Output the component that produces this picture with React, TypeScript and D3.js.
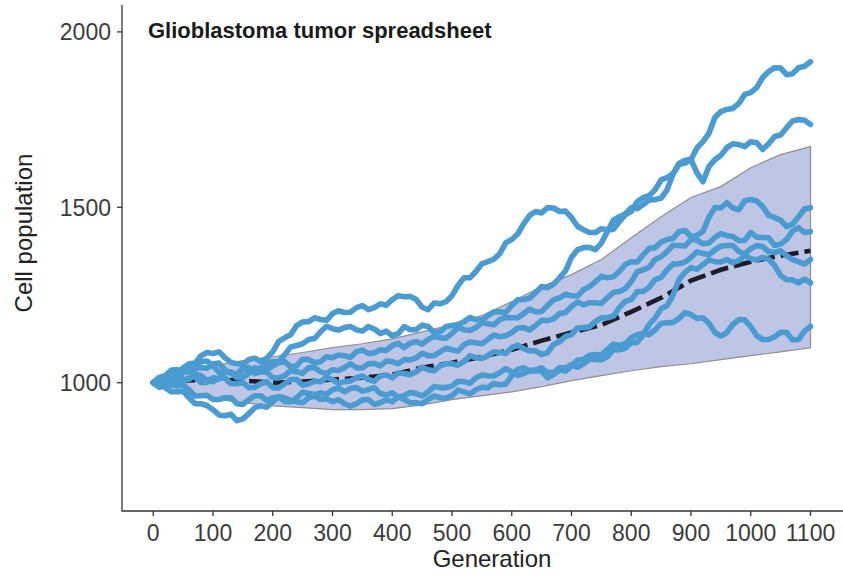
import React from "react";
import * as d3 from "d3";

// Sampling grid (generation) for the simulated runs
const generations = [
  0, 10, 20, 30, 40, 50, 60, 70, 80, 90, 100, 110, 120, 130, 140, 150, 160, 170, 180, 190,
  200, 210, 220, 230, 240, 250, 260, 270, 280, 290, 300, 310, 320, 330, 340, 350, 360, 370, 380, 390,
  400, 410, 420, 430, 440, 450, 460, 470, 480, 490, 500, 510, 520, 530, 540, 550, 560, 570, 580, 590,
  600, 610, 620, 630, 640, 650, 660, 670, 680, 690, 700, 710, 720, 730, 740, 750, 760, 770, 780, 790,
  800, 810, 820, 830, 840, 850, 860, 870, 880, 890, 900, 910, 920, 930, 940, 950, 960, 970, 980, 990,
  1000, 1010, 1020, 1030, 1040, 1050, 1060, 1070, 1080, 1090, 1100,
];

// Individual simulation runs (cell population per generation)
const runA = [
  1000, 1014, 1009, 1008, 1020, 1042, 1054, 1056, 1077, 1086, 1083, 1088, 1071, 1058, 1054, 1052, 1066, 1070, 1060, 1070,
  1088, 1118, 1128, 1137, 1163, 1173, 1174, 1185, 1180, 1178, 1197, 1205, 1200, 1201, 1214, 1220, 1208, 1214, 1225, 1221,
  1237, 1248, 1245, 1246, 1237, 1215, 1208, 1227, 1225, 1231, 1248, 1277, 1299, 1299, 1317, 1339, 1345, 1352, 1368, 1399,
  1408, 1424, 1453, 1477, 1488, 1484, 1499, 1498, 1488, 1489, 1471, 1446, 1436, 1428, 1428, 1439, 1436, 1437, 1459, 1479,
  1488, 1516, 1528, 1533, 1550, 1578, 1585, 1596, 1625, 1634, 1636, 1598, 1573, 1616, 1636, 1648, 1670, 1681, 1679, 1673,
  1687, 1684, 1665, 1681, 1702, 1706, 1727, 1746, 1750, 1748, 1736,
];
const runB = [
  1000, 987, 991, 1004, 1003, 1004, 1014, 1017, 1000, 1001, 1014, 1012, 1031, 1031, 1020, 1037, 1037, 1033, 1043, 1056,
  1060, 1060, 1080, 1102, 1106, 1111, 1123, 1126, 1145, 1161, 1154, 1150, 1157, 1160, 1151, 1147, 1160, 1153, 1140, 1147,
  1134, 1140, 1160, 1151, 1151, 1164, 1160, 1143, 1145, 1160, 1163, 1166, 1174, 1186, 1180, 1178, 1191, 1202, 1202, 1200,
  1220, 1236, 1237, 1241, 1257, 1274, 1271, 1281, 1299, 1319, 1357, 1379, 1385, 1386, 1379, 1398, 1431, 1463, 1473, 1481,
  1499, 1496, 1508, 1521, 1522, 1526, 1550, 1595, 1622, 1626, 1636, 1669, 1687, 1711, 1756, 1773, 1779, 1782, 1796, 1822,
  1827, 1841, 1870, 1887, 1898, 1897, 1878, 1881, 1898, 1902, 1915,
];
const runC = [
  1000, 1015, 1020, 1036, 1037, 1034, 1048, 1051, 1060, 1062, 1048, 1030, 1031, 1029, 1014, 1015, 1026, 1043, 1037, 1036,
  1048, 1057, 1060, 1045, 1048, 1067, 1066, 1057, 1060, 1074, 1071, 1079, 1077, 1072, 1088, 1093, 1083, 1085, 1094, 1092,
  1106, 1112, 1100, 1113, 1117, 1110, 1123, 1132, 1128, 1127, 1140, 1157, 1151, 1149, 1157, 1171, 1168, 1165, 1180, 1186,
  1185, 1185, 1197, 1210, 1202, 1203, 1220, 1236, 1242, 1252, 1248, 1247, 1265, 1274, 1288, 1303, 1299, 1302, 1317, 1337,
  1345, 1344, 1365, 1383, 1385, 1401, 1408, 1411, 1431, 1434, 1416, 1420, 1431, 1472, 1499, 1498, 1513, 1498, 1493, 1519,
  1522, 1518, 1502, 1477, 1471, 1463, 1445, 1452, 1473, 1495, 1499,
];
const runD = [
  1000, 991, 991, 993, 1009, 1029, 1031, 1040, 1043, 1041, 1054, 1056, 1037, 1026, 1026, 1040, 1043, 1026, 1031, 1030,
  1014, 1014, 1020, 1035, 1031, 1027, 1043, 1043, 1031, 1026, 1037, 1035, 1043, 1054, 1043, 1042, 1054, 1055, 1048, 1062,
  1060, 1054, 1066, 1065, 1071, 1084, 1077, 1077, 1088, 1098, 1094, 1090, 1108, 1116, 1114, 1111, 1123, 1136, 1131, 1134,
  1143, 1156, 1157, 1150, 1163, 1178, 1177, 1182, 1197, 1200, 1217, 1230, 1222, 1228, 1228, 1226, 1242, 1257, 1260, 1268,
  1288, 1316, 1322, 1329, 1351, 1359, 1374, 1392, 1391, 1390, 1408, 1406, 1396, 1398, 1414, 1425, 1419, 1417, 1405, 1406,
  1428, 1415, 1414, 1413, 1391, 1395, 1408, 1432, 1442, 1428, 1431,
];
const runE = [
  1000, 1014, 1014, 1025, 1026, 1010, 1009, 1025, 1020, 1006, 1003, 1012, 1014, 997, 997, 1000, 986, 987, 997, 1003,
  986, 985, 997, 1009, 1009, 993, 997, 1004, 1003, 1015, 1009, 998, 1003, 1005, 1014, 1019, 1009, 1004, 1020, 1022,
  1014, 1028, 1026, 1023, 1031, 1044, 1037, 1034, 1048, 1054, 1054, 1050, 1060, 1077, 1071, 1069, 1077, 1088, 1086, 1083,
  1100, 1107, 1097, 1091, 1091, 1080, 1086, 1109, 1117, 1132, 1137, 1156, 1157, 1159, 1174, 1185, 1185, 1190, 1214, 1232,
  1237, 1260, 1260, 1272, 1294, 1300, 1322, 1338, 1339, 1344, 1357, 1373, 1368, 1365, 1379, 1389, 1391, 1391, 1374, 1367,
  1382, 1391, 1388, 1374, 1371, 1376, 1362, 1351, 1345, 1338, 1351,
];
const runF = [
  1000, 998, 1009, 995, 991, 994, 980, 962, 963, 964, 952, 952, 957, 958, 940, 938, 952, 963, 963, 949,
  957, 959, 946, 946, 957, 973, 969, 966, 971, 967, 980, 985, 974, 984, 986, 976, 980, 986, 969, 965,
  971, 959, 963, 972, 969, 962, 974, 989, 986, 986, 991, 1004, 1003, 998, 1014, 1022, 1020, 1019, 1029, 1040,
  1031, 1021, 1026, 1035, 1037, 1042, 1029, 1029, 1043, 1042, 1051, 1044, 1054, 1067, 1066, 1065, 1074, 1094, 1094, 1098,
  1114, 1115, 1137, 1166, 1185, 1211, 1220, 1250, 1294, 1315, 1328, 1323, 1337, 1350, 1345, 1344, 1351, 1342, 1348, 1362,
  1354, 1350, 1357, 1352, 1334, 1305, 1294, 1293, 1285, 1295, 1285,
];
const runG = [
  1000, 1001, 986, 974, 974, 976, 957, 940, 940, 935, 923, 908, 906, 910, 892, 897, 912, 929, 934, 930,
  946, 960, 957, 949, 946, 943, 957, 962, 952, 954, 946, 952, 940, 933, 940, 951, 952, 938, 943, 951,
  946, 960, 952, 943, 943, 940, 952, 962, 957, 956, 963, 979, 974, 968, 980, 987, 986, 998, 994, 996,
  1020, 1038, 1043, 1033, 1034, 1033, 1014, 1023, 1037, 1033, 1048, 1064, 1066, 1078, 1080, 1079, 1094, 1110, 1106, 1111,
  1128, 1137, 1140, 1137, 1151, 1169, 1171, 1172, 1183, 1200, 1194, 1183, 1185, 1170, 1143, 1133, 1143, 1166, 1180, 1179,
  1160, 1134, 1123, 1123, 1131, 1144, 1143, 1122, 1123, 1147, 1160,
];
const runs = [runA, runB, runC, runD, runE, runF, runG];

// Summary band: mean with lower/upper envelope
const bandGenerations = [
  0, 50, 100, 150, 200, 250, 300, 350, 400, 450, 500, 550, 600, 650, 700, 750, 800, 850, 900, 950, 1000, 1050, 1100,
];
const meanPopulation = [
  1000, 1006, 1009, 1006, 1000, 1003, 1009, 1014, 1023, 1043, 1057, 1074, 1094, 1120, 1143, 1165, 1202, 1242, 1291, 1322,
  1345, 1362, 1376,
];
const upperPopulation = [
  1000, 1031, 1048, 1063, 1074, 1086, 1100, 1111, 1125, 1145, 1165, 1191, 1231, 1274, 1308, 1351, 1413, 1473, 1528, 1559,
  1613, 1650, 1673,
];
const lowerPopulation = [
  1000, 969, 954, 943, 934, 929, 923, 923, 926, 937, 952, 963, 974, 989, 1006, 1020, 1034, 1046, 1054, 1066,
  1077, 1088, 1100,
];

const xTicks = [0, 100, 200, 300, 400, 500, 600, 700, 800, 900, 1000, 1100];
const yTicks = [1000, 1500, 2000];

const W = 843;
const H = 576;
const panel = { left: 122, right: 843, top: 5, bottom: 511 };
const font = "'Liberation Sans', Arial, Helvetica, sans-serif";

export default function App() {
  const x = d3.scaleLinear().domain([0, 1100]).range([153.25, 810.5]);
  const y = d3.scaleLinear().domain([1000, 2000]).range([382.7, 31.9]);

  const runLine = d3
    .line<number>()
    .x((_, i) => x(generations[i]))
    .y((d) => y(d));

  const meanLine = d3
    .line<number>()
    .x((_, i) => x(bandGenerations[i]))
    .y((d) => y(d));

  const band = d3
    .area<number>()
    .x((i) => x(bandGenerations[i]))
    .y0((i) => y(lowerPopulation[i]))
    .y1((i) => y(upperPopulation[i]));

  const bandPath = band(bandGenerations.map((_, i) => i));

  return (
    <svg
      width={W}
      height={H}
      viewBox={`0 0 ${W} ${H}`}
      style={{ position: "absolute", left: 0, top: 0, background: "#fff" }}
      fontFamily={font}
    >
      <rect x={0} y={0} width={W} height={H} fill="#fff" />

      {/* envelope */}
      <path d={bandPath ?? ""} fill="#bec5e5" stroke="#8f8f8f" strokeWidth={1.2} />

      {/* mean trajectory */}
      <path
        d={meanLine(meanPopulation) ?? ""}
        fill="none"
        stroke="#1d1c2b"
        strokeWidth={4.6}
        strokeDasharray="18 6"
      />

      {/* simulated runs */}
      {runs.map((r, k) => (
        <path
          key={k}
          d={runLine(r) ?? ""}
          fill="none"
          stroke="#4a9bd1"
          strokeWidth={5.6}
          strokeLinejoin="round"
          strokeLinecap="round"
        />
      ))}

      {/* axes */}
      <line x1={panel.left} x2={panel.left} y1={panel.top} y2={panel.bottom + 0.5} stroke="#333" strokeWidth={1.3} />
      <line x1={panel.left} x2={panel.right} y1={panel.bottom} y2={panel.bottom} stroke="#333" strokeWidth={1.3} />

      {yTicks.map((t) => (
        <g key={t}>
          <line x1={panel.left - 5} x2={panel.left} y1={y(t)} y2={y(t)} stroke="#333" strokeWidth={1.3} />
          <text x={panel.left - 11} y={y(t)} dy="0.36em" textAnchor="end" fontSize={23} fill="#3b3b3b">
            {t}
          </text>
        </g>
      ))}

      {xTicks.map((t) => (
        <g key={t}>
          <line x1={x(t)} x2={x(t)} y1={panel.bottom} y2={panel.bottom + 5} stroke="#333" strokeWidth={1.3} />
          <text x={x(t)} y={541} textAnchor="middle" fontSize={23} fill="#3b3b3b">
            {t}
          </text>
        </g>
      ))}

      <text x={492} y={567} textAnchor="middle" fontSize={24} fill="#222">
        Generation
      </text>
      <text transform={`translate(32, 233) rotate(-90)`} textAnchor="middle" fontSize={24} fill="#222">
        Cell population
      </text>

      <text x={148} y={38} fontSize={22} fontWeight="bold" fill="#1a1a1a">
        Glioblastoma tumor spreadsheet
      </text>
    </svg>
  );
}
